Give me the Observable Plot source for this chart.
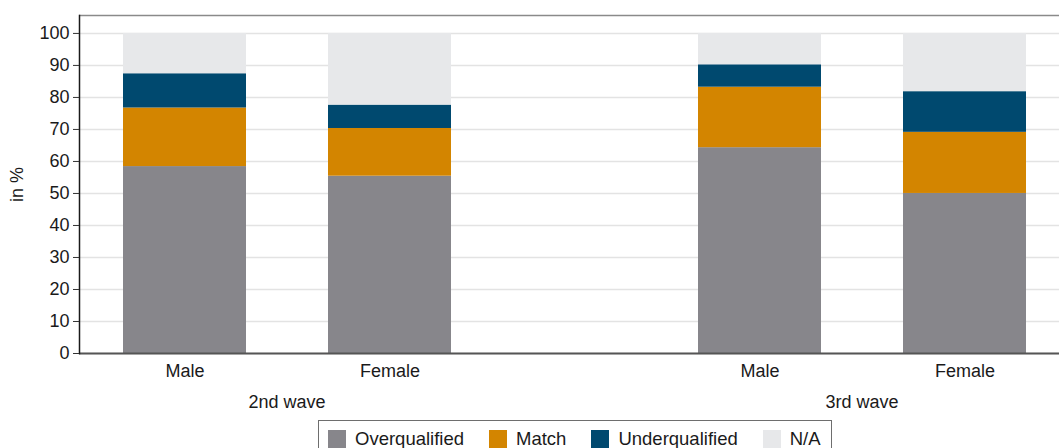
<!DOCTYPE html>
<html>
<head>
<meta charset="utf-8">
<script src="https://cdn.jsdelivr.net/npm/d3@7"></script>
<script src="https://cdn.jsdelivr.net/npm/@observablehq/plot@0.6"></script>
<style>
  html, body { margin: 0; padding: 0; background: #fff; overflow: hidden; }
  body { font-family: "Liberation Sans", Arial, sans-serif; width: 1059px; height: 448px; position: relative; }
  #chart { position: absolute; left: 0; top: 0; }
  #chart svg { max-width: none !important; }
  .legend { position: absolute; left: 318px; top: 420px; width: 514px; height: 40px; border: 1px solid #6e6e6e; box-sizing: border-box; display: flex; align-items: flex-start; padding-top: 7px; padding-left: 9px; font-size: 18.5px; color: #1a1a1a; }
  .legend .item { display: flex; align-items: center; margin-right: 25px; }
  .legend .sw { width: 18px; height: 18px; margin-right: 9px; }
</style>
</head>
<body>
<div id="chart"></div>
<script>
const waves = ["2nd wave", "3rd wave"];
const sexes = ["Male", "Female"];
const categories = ["Overqualified", "Match", "Underqualified", "N/A"];
const colors = ["#87868b", "#d38500", "#00496f", "#e7e8ea"];
// values per bar: [2nd Male, 2nd Female, 3rd Male, 3rd Female]
const overqualified = [58.4, 55.4, 64.3, 50.0];
const match = [18.3, 14.9, 18.9, 19.1];
const underqualified = [10.7, 7.3, 7.0, 12.7];
const na = [12.6, 22.4, 9.8, 18.2];
const yTicks = [0, 10, 20, 30, 40, 50, 60, 70, 80, 90, 100];
const yMax = 105.6;

const series = [overqualified, match, underqualified, na];
const data = [];
waves.forEach((w, wi) => sexes.forEach((s, si) => {
  const i = wi * 2 + si;
  categories.forEach((c, ci) => data.push({wave: w, sex: s, cat: c, value: series[ci][i]}));
}));

const fullW = 990;
const plot = Plot.plot({
  width: 1069,
  height: 416,
  marginTop: 15,
  marginLeft: 79,
  marginRight: 0,
  marginBottom: 63,
  style: {fontFamily: "Liberation Sans, Arial, sans-serif", fontSize: "18px", color: "#1a1a1a", background: "#fff", maxWidth: "none"},
  fx: {domain: waves, paddingInner: 0.279, paddingOuter: 0, label: null},
  x: {domain: sexes, paddingInner: 0.4, paddingOuter: 0.2085, label: null},
  y: {domain: [0, yMax], label: "in %"},
  color: {domain: categories, range: colors},
  marks: [
    Plot.axisY(yTicks, {tickSize: -fullW, text: null, label: null, stroke: "#e3e3e3", strokeWidth: 1.5, strokeOpacity: 1}),
    Plot.barY(data, Plot.stackY({fx: "wave", x: "sex", y: "value", fill: "cat", order: categories})),
    Plot.axisY([yMax], {tickSize: -fullW, text: null, label: null, stroke: "#8a8a8a", strokeWidth: 1.5, strokeOpacity: 1}),
    Plot.axisY([0], {tickSize: -fullW, text: null, label: null, stroke: "#555", strokeWidth: 2, strokeOpacity: 1}),
    Plot.frame({anchor: "left", facetAnchor: "left", stroke: "#1a1a1a", strokeWidth: 1.5}),
    Plot.axisY(yTicks, {tickSize: 6, tickPadding: 4, label: "in %", labelArrow: "none", labelAnchor: "center", labelOffset: 69, stroke: "#333", fontSize: 18}),
    Plot.axisX({tickSize: 0, tickPadding: 11, label: null, fontSize: 18}),
    Plot.axisFx({anchor: "bottom", tickSize: 0, tickPadding: 42, label: null, fontSize: 18})
  ]
});
document.getElementById("chart").appendChild(plot);

const lg = document.createElement("div");
lg.className = "legend";
categories.forEach((c, i) => {
  const it = document.createElement("div");
  it.className = "item";
  const sw = document.createElement("div");
  sw.className = "sw";
  sw.style.background = colors[i];
  const t = document.createElement("span");
  t.textContent = c;
  it.appendChild(sw); it.appendChild(t);
  lg.appendChild(it);
});
document.body.appendChild(lg);
</script>
</body>
</html>
